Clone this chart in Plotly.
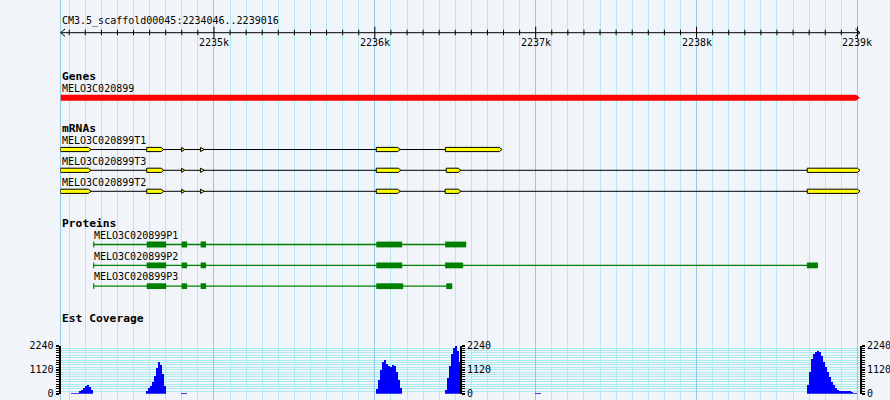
import plotly.graph_objects as go

# ---------------- data ----------------
REGION_START = 2234046
REGION_END = 2239016
title_text = "CM3.5_scaffold00045:2234046..2239016"
ruler_ticks = [2235000, 2236000, 2237000, 2238000, 2239000]
ruler_labels = ["2235k", "2236k", "2237k", "2238k", "2239k"]

track_titles = ["Genes", "mRNAs", "Proteins", "Est Coverage"]

gene_name = "MELO3C020899"
gene_span = [2234046, 2239016]

mrna_names = ["MELO3C020899T1", "MELO3C020899T3", "MELO3C020899T2"]
t1_exons = [(2234046, 2234236), (2234582, 2234688), (2234799, 2234818),
            (2234916, 2234940), (2236009, 2236158), (2236439, 2236791)]
t3_exons = [(2234046, 2234236), (2234582, 2234688), (2234799, 2234818),
            (2234916, 2234940), (2236009, 2236162), (2236444, 2236535),
            (2238688, 2239016)]
t2_exons = [(2234046, 2234236), (2234582, 2234688), (2234799, 2234818),
            (2234916, 2234940), (2236009, 2236158), (2236437, 2236535),
            (2238688, 2239016)]

protein_names = ["MELO3C020899P1", "MELO3C020899P2", "MELO3C020899P3"]
p1_cds = [(2234249, 2234256), (2234582, 2234703), (2234799, 2234833),
          (2234917, 2234951), (2236009, 2236170), (2236437, 2236568)]
p2_cds = [(2234249, 2234256), (2234582, 2234703), (2234799, 2234833),
          (2234917, 2234951), (2236009, 2236170), (2236437, 2236549),
          (2238686, 2238754)]
p3_cds = [(2234249, 2234256), (2234582, 2234703), (2234799, 2234833),
          (2234917, 2234951), (2236009, 2236176), (2236444, 2236481)]

cov_max = 2240
cov_ticks = [0, 1120, 2240]
cov_bin = 12.4
cov1_start, cov1_vals = 2234114, [50, 50, 50, 60, 110, 170, 260, 380, 410, 330, 200]
cov2_start, cov2_vals = 2234580, [150, 250, 340, 550, 850, 1200, 1500, 1350, 900, 350]
cov3_start, cov3_vals = 2234798, [50, 50, 50]
cov4_start, cov4_vals = 2236009, [215, 640, 1100, 1480, 1590, 1400, 1280, 1250,
                                  1330, 1280, 1020, 640, 260]
cov5_start, cov5_vals = 2236437, [180, 730, 1280, 1870, 2150, 2240, 2000, 1460]
cov6_start, cov6_vals = 2236996, [60, 60, 60]
cov7_start, cov7_vals = 2238686, [400, 1000, 1600, 1850, 1950, 1980, 1930, 1750,
                                  1500, 1250, 1000, 780, 560, 400, 260, 170, 120,
                                  120, 120, 120, 120, 120, 90, 60, 60]

# ---------------- style ----------------
W, H = 890, 400
X0PX, X1PX = 60.5, 860
PX = (REGION_END - REGION_START) / (X1PX - X0PX)   # bp per pixel
BG = "#f1f5fa"
MINOR_GRID = "#aaecf2"
MAJOR_GRID = "#8ecbe9"
FONT = "DejaVu Sans Mono"

shapes = []
annotations = []


def text(x, y, s, size=10, bold=False, xanchor="left"):
    annotations.append(dict(
        x=x, y=y, xref="x", yref="y", text=f"<b>{s}</b>" if bold else s,
        showarrow=False, xanchor=xanchor, yanchor="middle", borderpad=0,
        font=dict(family=FONT, size=size, color="black")))


def line(x0, x1, y0, y1, color="black", width=1):
    shapes.append(dict(type="line", xref="x", yref="y", x0=x0, x1=x1,
                       y0=y0, y1=y1, line=dict(color=color, width=width)))


# ruler
RY = 32.7
line(REGION_START, REGION_END, RY, RY)
line(REGION_START, REGION_START + 4.5 * PX, RY, RY - 3.6)
line(REGION_START, REGION_START + 4.5 * PX, RY, RY + 3.6)
line(REGION_END, REGION_END - 4.5 * PX, RY, RY - 3.6)
line(REGION_END, REGION_END - 4.5 * PX, RY, RY + 3.6)
t = (REGION_START // 100 + 1) * 100
while t <= REGION_END:
    if t % 1000 == 0:
        line(t, t, RY - 6, RY + 5)
    else:
        line(t, t, RY - 3, RY + 2.5)
    t += 100
for tv, tl in zip(ruler_ticks, ruler_labels):
    text(tv, 42.5, tl, xanchor="center")
text(REGION_START, 20.8, title_text)

# Genes
text(REGION_START, 76.3, track_titles[0], size=11.3, bold=True)
text(gene_span[0], 88, gene_name)
gtip = 4 * PX
shapes.append(dict(
    type="path", xref="x", yref="y",
    path=(f"M {gene_span[0]},94.8 L {gene_span[1]-gtip},94.8 L {gene_span[1]},97.8 "
          f"L {gene_span[1]-gtip},100.8 L {gene_span[0]},100.8 Z"),
    fillcolor="#ff0000", line=dict(width=0)))

# mRNAs
text(REGION_START, 128.8, track_titles[1], size=11.3, bold=True)


def exon_path(x0, x1, yc, h=2.1, tip=2.6 * PX):
    if x1 - x0 <= tip * 1.6:
        return f"M {x0},{yc-h} L {x1},{yc} L {x0},{yc+h} Z"
    return (f"M {x0},{yc-h} L {x1-tip},{yc-h} L {x1},{yc} "
            f"L {x1-tip},{yc+h} L {x0},{yc+h} Z")


for name, exons, ly, yc in zip(mrna_names, [t1_exons, t3_exons, t2_exons],
                               [140.7, 161.4, 182.4], [149.5, 170.3, 191.3]):
    text(exons[0][0], ly, name)
    line(exons[0][0], exons[-1][1], yc, yc)
    for a, b in exons:
        shapes.append(dict(type="path", xref="x", yref="y", path=exon_path(a, b, yc),
                           fillcolor="#ffff00", line=dict(color="black", width=1)))

# Proteins
text(REGION_START, 223.2, track_titles[2], size=11.3, bold=True)
for name, cds, ly, yc in zip(protein_names, [p1_cds, p2_cds, p3_cds],
                             [235.4, 256, 276.9], [244.5, 265.4, 286.2]):
    text(cds[0][0], ly, name)
    line(cds[0][0], cds[-1][1], yc, yc, color="#008000", width=1.3)
    for a, b in cds:
        shapes.append(dict(type="rect", xref="x", yref="y", x0=a, x1=b,
                           y0=yc - 2.9, y1=yc + 2.9, fillcolor="#008000",
                           line=dict(width=0)))

# Est coverage
text(REGION_START, 318, track_titles[3], size=11.3, bold=True)

cov_x, cov_y = [], []
for st, vals in [(cov1_start, cov1_vals), (cov2_start, cov2_vals), (cov3_start, cov3_vals),
                 (cov4_start, cov4_vals), (cov5_start, cov5_vals), (cov6_start, cov6_vals),
                 (cov7_start, cov7_vals)]:
    for i, v in enumerate(vals):
        cov_x.append(st + (i + 0.5) * cov_bin)
        cov_y.append(v)

fig = go.Figure()
fig.add_trace(go.Bar(x=cov_x, y=cov_y, width=cov_bin, xaxis="x", yaxis="y2",
                     marker=dict(color="#0000ff", line=dict(width=0)),
                     hoverinfo="skip", showlegend=False))
for ya in ["y3", "y4"]:
    fig.add_trace(go.Scatter(x=[REGION_START], y=[0], xaxis="x", yaxis=ya,
                             mode="markers", marker=dict(opacity=0),
                             hoverinfo="skip", showlegend=False))
fig.add_trace(go.Scatter(x=[REGION_START], y=[0], xaxis="x", yaxis="y",
                         mode="markers", marker=dict(opacity=0),
                         hoverinfo="skip", showlegend=False))

cov_bot = (H - 393.8) / H
cov_top = (H - 345.6) / H

yc_common = dict(
    range=[0, cov_max], tickmode="array", tickvals=cov_ticks,
    ticktext=[str(v) for v in cov_ticks], ticks="outside", ticklen=3,
    tickwidth=2, tickcolor="black", showline=True, linecolor="black",
    linewidth=2, zeroline=False, fixedrange=True, automargin=False,
    tickfont=dict(family=FONT, size=10, color="black"),
)

fig.update_layout(
    width=W, height=H,
    margin=dict(l=0, r=0, t=0, b=0, pad=0, autoexpand=False),
    paper_bgcolor=BG, plot_bgcolor=BG, showlegend=False, bargap=0,
    shapes=shapes, annotations=annotations,
    xaxis=dict(domain=[X0PX / W, X1PX / W], range=[REGION_START, REGION_END],
               showticklabels=False, ticks="", zeroline=False, showline=False,
               tickmode="linear", tick0=2234000, dtick=1000, automargin=False,
               showgrid=True, gridcolor=MAJOR_GRID, gridwidth=1,
               minor=dict(tickmode="linear", tick0=2234000, dtick=100,
                          showgrid=True, gridcolor=MINOR_GRID, gridwidth=1),
               fixedrange=True),
    yaxis=dict(domain=[0, 1], range=[H, 0], showticklabels=False, ticks="",
               showgrid=False, zeroline=False, showline=True, automargin=False,
               linecolor=MAJOR_GRID, linewidth=1, fixedrange=True),
    yaxis2=dict(domain=[cov_bot, cov_top], anchor="x", side="left",
                showgrid=True, gridcolor=MINOR_GRID, gridwidth=1,
                minor=dict(tickmode="linear", tick0=0, dtick=112, ticks="outside",
                           ticklen=3, tickwidth=1, tickcolor="black",
                           showgrid=True, gridcolor=MINOR_GRID, gridwidth=1),
                **yc_common),
    yaxis3=dict(overlaying="y2", anchor="free", position=461 / W, side="right",
                showgrid=False,
                minor=dict(tickmode="linear", tick0=0, dtick=112, ticks="outside",
                           ticklen=3, tickwidth=1, tickcolor="black", showgrid=False),
                **yc_common),
    yaxis4=dict(overlaying="y2", anchor="x", side="right", showgrid=False,
                minor=dict(tickmode="linear", tick0=0, dtick=112, ticks="outside",
                           ticklen=3, tickwidth=1, tickcolor="black", showgrid=False),
                **yc_common),
)

fig.write_html(
    "out.html",
    config={"staticPlot": True},
    post_script=("document.body.style.margin='0';"
                 "document.body.style.padding='0';"
                 "document.body.style.overflow='hidden';"),
)
